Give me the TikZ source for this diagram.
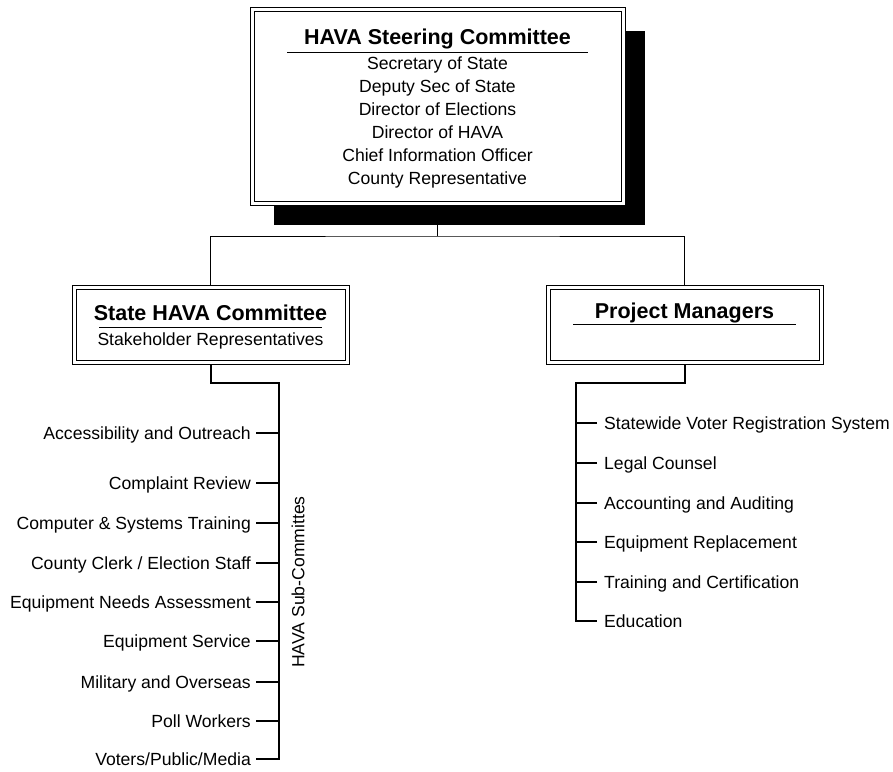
\documentclass[tikz,border=0pt]{standalone}
\usepackage{fontspec}
\setmainfont{Liberation Sans}
\usetikzlibrary{shadows,backgrounds}
\tikzset{
  box/.style={draw, line width=1pt, double, double distance=3pt, fill=white},
  head/.style={font=\bfseries\fontsize{21.5}{24}\selectfont, inner sep=0pt, anchor=base},
  item/.style={font=\fontsize{17.6}{23}\selectfont, inner sep=0pt},
  sub/.style={item, inner xsep=5pt, text height=12pt, text depth=0pt, anchor=east},
  task/.style={item, inner xsep=7pt, text height=12pt, text depth=0pt, anchor=west},
  branch/.style={line width=2pt},
}

\begin{document}
\begin{tikzpicture}[x=1pt,y=-1pt]
\useasboundingbox (0,0) rectangle (893,771);
% boxes
\node[box, minimum width=371.5pt, minimum height=193.5pt,
  drop shadow={shadow xshift=21.5pt, shadow yshift=-21.5pt, opacity=1, fill=black}] (steer) at (437.75,106.25) {};
\node[box, minimum width=273pt, minimum height=75pt] (state) at (210.5,324.5) {};
\node[box, minimum width=273pt, minimum height=75pt] (pm) at (684.5,324.5) {};

\node[head] (steertitle) at (437.5,44) {HAVA Steering Committee};
\draw[line width=1pt] (287,52) -- (588,52);
\node[item, align=center, anchor=base] (members) at (437.5,184) {Secretary of State\\Deputy Sec of State\\Director of Elections\\Director of HAVA\\Chief Information Officer\\County Representative};

\node[head] (statetitle) at (210.5,320) {State HAVA Committee};
\draw[line width=1pt] (99,327) -- (322,327);
\node[item, anchor=base] (stakeholders) at (210.5,345) {Stakeholder Representatives};

\node[head] (pmtitle) at (684.5,318) {Project Managers};
\draw[line width=1pt] (573,324) -- (796,324);

% sub-committees
\foreach \y/\name [count=\i] in {433/{Accessibility and Outreach}, 483/{Complaint Review},
  523/{Computer \& Systems Training}, 563/{County Clerk / Election Staff},
  602/{Equipment Needs Assessment}, 641/{Equipment Service}, 682/{Military and Overseas},
  721/{Poll Workers}, 759/{Voters/Public/Media}}
  \node[sub] (sub\i) at (256,\y) {\name};
\node[item, rotate=90] (subs) at (298,582) {HAVA Sub-Committes};

% project areas
\foreach \y/\name [count=\i] in {423/{Statewide Voter Registration System}, 463/{Legal Counsel},
  503/{Accounting and Auditing}, 542/{Equipment Replacement},
  582/{Training and Certification}, 621/{Education}}
  \node[task] (task\i) at (597,\y) {\name};

\coordinate (split) at (437.75,236);
\coordinate (lspine) at (279,383);
\coordinate (rspine) at (576,383);

\begin{scope}[on background layer]
\draw[line width=1pt] (steer.south) -- (split);
\draw[line width=1pt] (state.north) |- (split) -| (pm.north);
\draw[branch] (state.south) |- (lspine) |- (sub9.east);
\foreach \i in {1,...,8}
  \draw[branch] (sub\i.east) -- (sub\i.east -| lspine);
\draw[branch] (pm.south) |- (rspine) |- (task6.west);
\foreach \i in {1,...,5}
  \draw[branch] (task\i.west) -- (task\i.west -| rspine);
\end{scope}
\end{tikzpicture}
\end{document}
